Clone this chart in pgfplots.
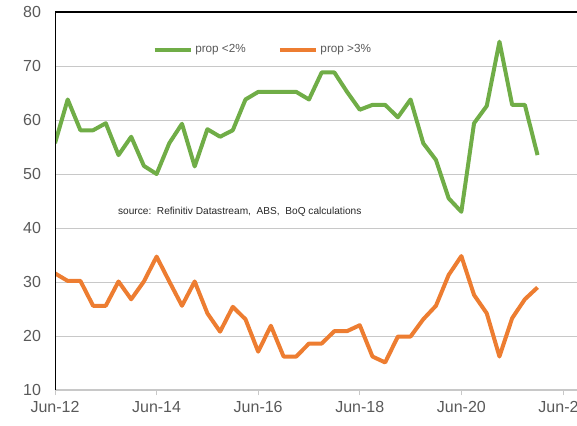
\documentclass[border=0pt]{standalone}
\usepackage{fontspec}
\setmainfont{Liberation Sans}
\usepackage{pgfplots}
\pgfplotsset{compat=1.18}
\definecolor{PropGreen}{RGB}{112,173,71}
\definecolor{PropOrange}{RGB}{237,125,49}
\definecolor{LabelGray}{RGB}{89,89,89}
\definecolor{GridGray}{RGB}{200,200,200}

% quarterly, 0 = Jun-12
\pgfplotstableread{
q green orange
0 55.7 31.6
1 63.8 30.2
2 58.1 30.2
3 58.1 25.6
4 59.4 25.6
5 53.5 30.1
6 56.9 26.8
7 51.5 30.1
8 50.0 34.7
9 55.7 30.1
10 59.3 25.6
11 51.4 30.1
12 58.3 24.2
13 56.9 20.8
14 58.1 25.4
15 63.8 23.1
16 65.2 17.1
17 65.2 21.9
18 65.2 16.2
19 65.2 16.2
20 63.8 18.6
21 68.8 18.6
22 68.8 20.9
23 65.2 20.9
24 61.9 22.0
25 62.8 16.2
26 62.8 15.1
27 60.5 19.9
28 63.8 19.9
29 55.7 23.1
30 52.6 25.6
31 45.5 31.3
32 43.0 34.8
33 59.4 27.6
34 62.6 24.2
35 74.5 16.2
36 62.8 23.3
37 62.8 26.8
38 53.5 29.0
}\propdata

\begin{document}
\begin{tikzpicture}
\begin{axis}[
    name=main,
    scale only axis,
    width=400pt, height=283.5pt,
    xmin=0, xmax=42, ymin=10, ymax=80,
    axis line style={draw=none},
    xtick={0,8,16,24,32,40},
    xticklabels={Jun-12,Jun-14,Jun-16,Jun-18,Jun-20,Jun-22},
    ytick={10,20,...,80},
    ymajorgrids=true,
    grid style={GridGray, line width=0.5pt},
    major x tick style={draw=GridGray, line width=0.6pt},
    major y tick style={draw=none},
    tick align=outside,
    major tick length=4pt,
    xtick pos=bottom,
    ytick pos=left,
    tick label style={font=\fontsize{12}{14}\selectfont, text=LabelGray},
    /pgf/number format/assume math mode=true,
    yticklabel style={xshift=-3pt},
    xticklabel style={yshift=-1pt},
    legend style={at={(0.175,0.9)}, anchor=west, draw=none, fill=none,
        font=\fontsize{8.8}{10}\selectfont, text=LabelGray,
        legend columns=2,
        /tikz/every even column/.append style={column sep=22pt}},
    legend image code/.code={\draw[#1, line width=3pt] (0pt,0pt) -- (27pt,0pt);},
]
\addplot[PropGreen, line width=3pt, line join=round] table[x=q, y=green] {\propdata};
\addplot[PropOrange, line width=3pt, line join=round] table[x=q, y=orange] {\propdata};
\legend{prop <2\%, prop >3\%}
\draw[GridGray, line width=0.8pt] (rel axis cs:0,0) -- (rel axis cs:1,0);
\draw[black, line width=1.2pt] (rel axis cs:0,0) -- (rel axis cs:0,1) -- (rel axis cs:1,1);
\node[anchor=west, font=\fontsize{7.6}{9}\selectfont, text=black!85]
    at (axis cs:4.6,43) {source:\ \ Refinitiv Datastream,\ \ ABS,\ \ BoQ calculations};
\end{axis}
\pgfresetboundingbox
\path[use as bounding box] ([xshift=-41.25pt, yshift=-26.25pt]main.south west)
    rectangle ([xshift=391.5pt, yshift=9pt]main.north west);
\end{tikzpicture}
\end{document}
